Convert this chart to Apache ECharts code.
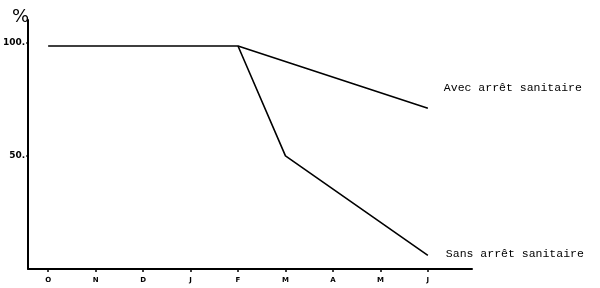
<!DOCTYPE html>
<html><head><meta charset="utf-8">
<script src="https://cdn.jsdelivr.net/npm/echarts@6/dist/echarts.min.js"></script>
<style>html,body{margin:0;padding:0;background:#fff}#c{width:600px;height:288px}</style>
</head><body><div id="c"></div>
<script>
const categories = ['O','N','D','J','F','M','A','M','J'];
const yTicks = [50, 100];
const avecValues = [98.5, null, null, null, 98.5, null, null, null, 71];
const sansValues = [null, null, null, null, 98.5, 50, null, null, 6];
const avecName = 'Avec arrêt sanitaire';
const sansName = 'Sans arrêt sanitaire';

const toPairs = arr => arr.map((v, i) => [i, v]);
const chart = echarts.init(document.getElementById('c'), null, {renderer: 'canvas'});
chart.setOption({
  animation: false,
  backgroundColor: '#fff',
  title: {text: '%', left: 7, top: 3, textStyle: {fontSize: 18, fontWeight: 'normal', color: '#000', fontFamily: 'DejaVu Sans'}},
  grid: {left: 28, right: 128, top: 20, bottom: 19},
  xAxis: {
    type: 'value', min: -0.42, max: 8.93,
    splitLine: {show: false},
    axisLine: {show: true, lineStyle: {color: '#000', width: 2}},
    axisTick: {show: true, customValues: categories.map((c, i) => i), length: 3, lineStyle: {color: '#000', width: 1.5}},
    axisLabel: {customValues: categories.map((c, i) => i), formatter: v => categories[Math.round(v)], color: '#000', fontSize: 7, fontWeight: 'bold', fontFamily: 'DejaVu Sans', margin: 8}
  },
  yAxis: {
    type: 'value', min: 0, max: 110,
    splitLine: {show: false},
    axisLine: {show: true, onZero: false, lineStyle: {color: '#000', width: 2}},
    axisTick: {show: true, customValues: yTicks, length: 2, lineStyle: {color: '#000', width: 1.5}},
    axisLabel: {customValues: yTicks, formatter: v => v + '.', color: '#000', fontSize: 9, fontWeight: 'bold', fontFamily: 'DejaVu Sans', margin: 3}
  },
  series: [
    {name: avecName, type: 'line', data: toPairs(avecValues), connectNulls: true, showSymbol: false,
     lineStyle: {color: '#000', width: 1.6},
     endLabel: {show: true, formatter: avecName, color: '#000', fontSize: 11.5, fontFamily: 'Liberation Mono', offset: [8, -20]}},
    {name: sansName, type: 'line', data: toPairs(sansValues), connectNulls: true, showSymbol: false,
     lineStyle: {color: '#000', width: 1.6},
     endLabel: {show: true, formatter: sansName, color: '#000', fontSize: 11.5, fontFamily: 'Liberation Mono', offset: [10, -1]}}
  ]
});
</script></body></html>
